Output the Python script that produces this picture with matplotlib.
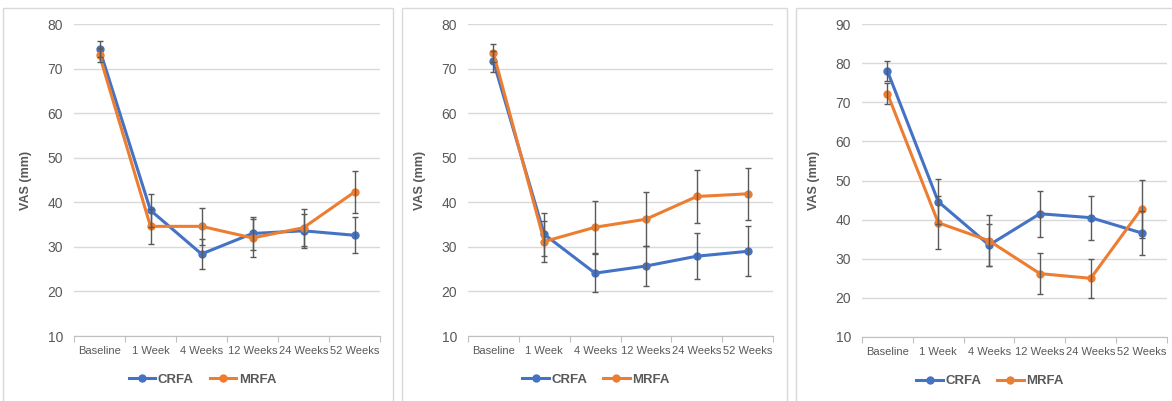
import numpy as np
import matplotlib
matplotlib.use("Agg")
import matplotlib.pyplot as plt
from matplotlib.patches import Rectangle

plt.rcParams['font.family'] = ['Liberation Sans', 'DejaVu Sans']

categories = ["Baseline", "1 Week", "4 Weeks", "12 Weeks", "24 Weeks", "52 Weeks"]

# panel 1
p1_crfa = [74.4, 38.2, 28.4, 33.0, 33.6, 32.6]
p1_crfa_err = [1.7, 3.7, 3.4, 3.6, 3.8, 4.0]
p1_mrfa = [73.0, 34.6, 34.6, 32.0, 34.3, 42.3]
p1_mrfa_err = [1.6, 3.9, 4.2, 4.2, 4.1, 4.7]

# panel 2
p2_crfa = [71.6, 32.8, 24.1, 25.7, 27.9, 29.0]
p2_crfa_err = [2.3, 4.9, 4.3, 4.4, 5.2, 5.6]
p2_mrfa = [73.5, 31.2, 34.4, 36.2, 41.3, 41.9]
p2_mrfa_err = [2.1, 4.7, 5.8, 6.1, 6.0, 5.9]

# panel 3
p3_crfa = [78.0, 44.6, 33.5, 41.5, 40.5, 36.6]
p3_crfa_err = [2.5, 5.7, 5.4, 5.9, 5.6, 5.7]
p3_mrfa = [72.2, 39.2, 34.6, 26.2, 25.0, 42.8]
p3_mrfa_err = [2.6, 6.8, 6.5, 5.2, 5.0, 7.4]

blue = "#4472C4"
orange = "#ED7D31"
grid_c = "#D9D9D9"
text_c = "#595959"

W, H = 1172, 401
fig = plt.figure(figsize=(W / 100, H / 100), dpi=100)

# panel frames (pixels: x0, y0 top, x1, y1 bottom)
frames = [(3, 8, 393, 405), (402, 8, 787, 405), (796, 8, 1176, 405)]
for x0, y0, x1, y1 in frames:
    fig.patches.append(Rectangle((x0 / W, 1 - y1 / H), (x1 - x0) / W, (y1 - y0) / H,
                                 transform=fig.transFigure, fill=False,
                                 edgecolor="#D9D9D9", linewidth=1.0))

# axes boxes in pixels: left, top, right, bottom
boxes = [(74, 24, 380, 336), (468, 24, 773, 336), (862, 24, 1167, 337)]
panels = [
    (p1_crfa, p1_crfa_err, p1_mrfa, p1_mrfa_err, 80),
    (p2_crfa, p2_crfa_err, p2_mrfa, p2_mrfa_err, 80),
    (p3_crfa, p3_crfa_err, p3_mrfa, p3_mrfa_err, 90),
]

x = np.arange(len(categories))

for (l, t, r, b), (crfa, crfa_err, mrfa, mrfa_err, ymax) in zip(boxes, panels):
    ax = fig.add_axes([l / W, 1 - b / H, (r - l) / W, (b - t) / H])
    ax.plot(x, crfa, color=blue, lw=2.2, marker="o", ms=5, zorder=3, label="CRFA")
    ax.plot(x, mrfa, color=orange, lw=2.2, marker="o", ms=5, zorder=3, label="MRFA")
    ax.errorbar(x, crfa, yerr=crfa_err, fmt="none", ecolor="#595959", elinewidth=1,
                capsize=2.5, capthick=1, zorder=4)
    ax.errorbar(x, mrfa, yerr=mrfa_err, fmt="none", ecolor="#595959", elinewidth=1,
                capsize=2.5, capthick=1, zorder=4)

    ax.set_xlim(-0.5, len(categories) - 0.5)
    ax.set_ylim(10, ymax)
    ax.set_yticks(np.arange(10, ymax + 1, 10))
    ax.yaxis.grid(True, color=grid_c, lw=1)
    ax.set_axisbelow(True)
    for s in ["top", "right", "left"]:
        ax.spines[s].set_visible(False)
    ax.spines["bottom"].set_color("#BFBFBF")
    ax.tick_params(axis="y", length=0, labelsize=10, labelcolor=text_c, pad=8)

    # category boundary ticks, labels centred
    ax.set_xticks(np.arange(-0.5, len(categories) + 0.5, 1))
    ax.set_xticklabels([])
    ax.tick_params(axis="x", which="major", length=4, color="#BFBFBF")
    ax.set_xticks(x, minor=True)
    ax.set_xticklabels(categories, minor=True)
    ax.tick_params(axis="x", which="minor", length=0, labelsize=8, labelcolor=text_c, pad=7)

    ax.set_ylabel("VAS (mm)", fontsize=9, fontweight="bold", color=text_c)
    ax.yaxis.set_label_coords(-0.137, 0.5)

    ax.legend(loc="center", bbox_to_anchor=(0.42, -0.141), ncol=2, frameon=False,
              prop={"size": 9.5, "weight": "bold"}, labelcolor=text_c, handlelength=2.0,
              columnspacing=1.2, handletextpad=0.2)

fig.savefig("out.png", dpi=100)
